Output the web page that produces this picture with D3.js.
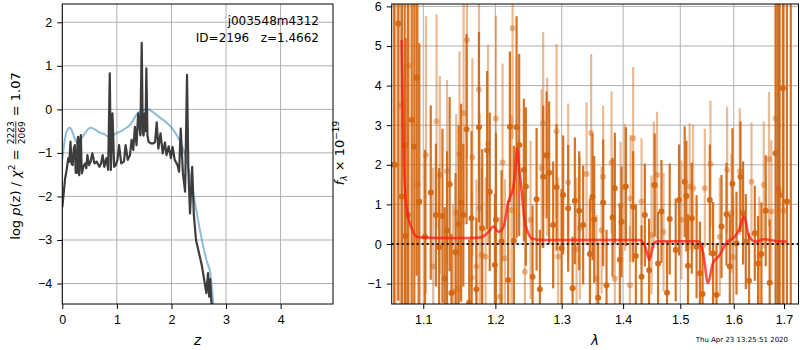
<!DOCTYPE html>
<meta charset="utf-8">
<style>
body { margin: 0; background: #fff; }
svg { font-family: "DejaVu Sans", sans-serif; }
.tick text { font-size: 12.5px; fill: #000; }
.tick line { stroke: #000; }
</style>
<svg width="800" height="350"></svg>
<script src="https://d3js.org/d3.v7.min.js"></script>
<script>
var svg = d3.select("svg");

// redshift probability, log p(z)
var pzZ = [0.00, 0.02, 0.05, 0.08, 0.11, 0.13, 0.15, 0.17, 0.19, 0.21, 0.23, 0.245, 0.26, 0.28, 0.29, 0.30, 0.31, 0.325, 0.34, 0.355,
    0.36, 0.39, 0.42, 0.44, 0.46, 0.49, 0.52, 0.55, 0.59, 0.63, 0.68, 0.71, 0.74, 0.77, 0.81, 0.84, 0.87, 0.89, 0.92, 0.95,
    0.98, 1.01, 1.04, 1.08, 1.13, 1.16, 1.20, 1.24, 1.27, 1.30, 1.33, 1.36, 1.39, 1.43, 1.455, 1.475, 1.49, 1.51, 1.525, 1.54,
    1.56, 1.58, 1.62, 1.67, 1.70, 1.73, 1.76, 1.80, 1.84, 1.88, 1.91, 1.95, 1.99, 2.02, 2.06, 2.11, 2.14, 2.17, 2.21, 2.25,
    2.285, 2.31, 2.34, 2.38, 2.41, 2.45, 2.52, 2.56, 2.61, 2.64, 2.67, 2.69, 2.71, 2.73, 2.76];
var pzLog = [-2.25, -2.0, -1.6, -1.39, -1.12, -1.2, -0.74, -1.25, -1.28, -0.9, -0.82, -1.45, -1.46, -0.7, -0.63, -1.45, -1.51, -0.75, -0.59, -1.4,
    -1.47, -1.3, -1.24, -1.35, -1.05, -1.28, -1.2, -1.01, -1.24, -1.2, -1.32, -1.25, -1.05, -1.32, -1.12, -1.39, 0.83, -1.39, -0.09, -1.32,
    -1.28, -1.16, -0.82, -1.24, -1.2, -0.82, -1.16, -1.05, -0.7, -0.93, -0.4, -0.82, -0.09, -0.6, 1.53, -0.55, -0.6, -0.09, -0.5, 0.94,
    -0.6, -0.74, -0.78, -0.78, -0.75, -0.3, -0.9, -0.55, -1.01, -0.76, -1.05, -0.85, -1.12, -0.86, -1.16, -1.28, -1.43, -0.44, -1.47, -1.89,
    0.79, -1.39, -2.39, -1.32, -2.42, -3.0, -3.38, -3.61, -3.99, -4.22, -3.76, -4.3, -3.9, -4.4, -4.7];

// chi2 curve in the same units
var chiZ = [0, 0.04, 0.08, 0.14, 0.18, 0.22, 0.27, 0.33, 0.40, 0.46, 0.52, 0.58, 0.64, 0.70, 0.77, 0.84, 0.92, 1.00, 1.08, 1.15,
    1.22, 1.30, 1.36, 1.42, 1.48, 1.56, 1.65, 1.72, 1.80, 1.88, 1.95, 2.02, 2.10, 2.18, 2.24, 2.30, 2.36, 2.41, 2.46, 2.51,
    2.55, 2.60, 2.65, 2.71, 2.74, 2.78];
var chiLog = [-1.15, -0.75, -0.5, -0.42, -0.5, -0.65, -0.77, -0.7, -0.58, -0.47, -0.42, -0.45, -0.5, -0.54, -0.57, -0.62, -0.6, -0.54, -0.5, -0.44,
    -0.38, -0.25, -0.12, -0.05, -0.02, 0.0, -0.05, -0.12, -0.2, -0.27, -0.35, -0.45, -0.6, -0.8, -1.0, -1.3, -1.65, -2.0, -2.35, -2.7,
    -2.95, -3.25, -3.5, -3.75, -4.1, -4.6];

var zTicks = [0, 1, 2, 3, 4];
var pTicks = [-4, -3, -2, -1, 0, 1, 2];

// spectrum, [wavelength, flux, error]  (dark series)
var specDark = [[1.062, 2.0, 8], [1.0673, 5.57, 7], [1.072, 1.2, 7], [1.0756, 2.5, 6], [1.0768, 0.2, 5], [1.0797, 0.73, 6], [1.0848, 3.13, 6],
    [1.0882, 2.46, 6], [1.0913, 4.2, 5], [1.0948, 1.07, 4], [1.1023, 0.18, 2.2], [1.110, 1.3, 2.2], [1.1169, 0.73, 1.8], [1.1213, -0.08, 2.0],
    [1.1258, 0.71, 2.2], [1.1289, -0.87, 1.8], [1.132, 0.34, 2.0], [1.1356, 1.51, 2.2], [1.138, -1.24, 1.5], [1.1437, -0.21, 2.0], [1.148, 0.5, 2.5],
    [1.1514, 1.04, 2.5], [1.1545, 0.73, 1.8], [1.159, 2.9, 2.4], [1.1627, -1.48, 1.6], [1.1659, 0.65, 2.2], [1.1728, -1.14, 1.8], [1.1765, 2.95, 2.4],
    [1.1811, 0.4, 2.0], [1.1881, 2.37, 2.0], [1.1919, 1.32, 2.0], [1.1993, -0.53, 1.8], [1.2008, 0.61, 2.2], [1.209, 0.06, 1.8], [1.2187, -0.91, 2.0],
    [1.2212, 2.96, 1.9], [1.2271, 0.08, 2.4], [1.2311, 2.95, 2.8], [1.235, 2.5, 2.3], [1.242, 1.87, 1.8], [1.245, 1.45, 2.0], [1.2551, -0.83, 1.8],
    [1.2612, 1.13, 1.8], [1.2662, -1.14, 1.5], [1.2713, 1.7, 1.8], [1.2765, 2.25, 1.6], [1.2805, 1.8, 1.8], [1.2867, 0.48, 1.6], [1.292, 1.43, 1.6],
    [1.2998, -0.11, 1.5], [1.3023, 1.24, 1.5], [1.3102, 0.9, 1.6], [1.3172, -1.12, 1.3], [1.3208, 1.09, 1.6], [1.3277, 0.84, 1.5], [1.3341, 0.48, 1.5],
    [1.345, -0.25, 1.4], [1.3493, 1.19, 1.6], [1.352, 0.62, 1.6], [1.3585, -1.36, 1.4], [1.3667, 1.04, 1.6], [1.3723, -1.04, 1.4], [1.3823, 0.67, 1.5],
    [1.3861, 1.41, 1.4], [1.3945, -0.4, 1.4], [1.3974, 0.56, 1.4], [1.4047, 1.45, 1.5], [1.4171, 0.94, 1.4], [1.4217, -0.3, 1.3], [1.4315, -0.83, 1.3],
    [1.4372, 0.73, 1.3], [1.4446, -0.66, 1.3], [1.4545, 1.49, 1.3], [1.4603, -0.49, 1.3], [1.4663, 0.82, 1.3], [1.4762, -1.23, 1.3], [1.481, 0.63, 1.4],
    [1.4917, -0.15, 1.3], [1.4977, 1.11, 1.4], [1.508, 1.57, 1.4], [1.5111, 1.21, 1.4], [1.514, -0.55, 1.3], [1.521, 0.65, 1.4], [1.5298, -0.07, 1.3],
    [1.5359, -0.74, 1.3], [1.5409, -1.26, 1.3], [1.5544, 1.11, 1.4], [1.5606, -0.24, 1.3], [1.567, -1.29, 1.3], [1.5765, 0.44, 1.3], [1.586, 0.75, 1.3],
    [1.5924, -0.57, 1.3], [1.5975, 1.52, 1.4], [1.6053, 0.02, 1.3], [1.613, 1.7, 1.4], [1.6181, 0.78, 1.3], [1.6234, 0.06, 1.2], [1.6298, -0.93, 1.2],
    [1.6411, 0.27, 1.2], [1.6476, -0.49, 1.2], [1.6543, -0.25, 1.3], [1.6629, 0.84, 1.4], [1.6709, -0.98, 1.6], [1.683, 2.29, 4.0], [1.6876, 1.41, 6],
    [1.6911, 1.24, 7], [1.6978, 3.93, 8], [1.706, 1.07, 9], [1.714, 6.5, 9]];

// second spectrum (light series)
var specLight = [[1.064, 2.0, 8], [1.070, 3.5, 7], [1.081, 4.5, 6], [1.093, 1.5, 5], [1.1036, 2.25, 3.5], [1.1133, -0.57, 2.5], [1.1178, 3.1, 2.7],
    [1.1222, 1.74, 2.5], [1.132, 1.84, 2.3], [1.1401, -1.2, 2.2], [1.1446, 0.78, 2.5], [1.1468, -1.14, 2.0], [1.1491, 2.27, 2.6], [1.1549, 3.3, 2.8],
    [1.1596, 5.15, 3.0], [1.1664, -0.85, 2.2], [1.1672, 2.19, 2.5], [1.1728, -0.57, 2.2], [1.1765, 3.9, 2.6], [1.1775, 0.9, 2.4], [1.1803, -0.28, 2.2],
    [1.1859, -0.32, 2.0], [1.1895, 2.53, 2.5], [1.2008, 3.17, 2.6], [1.2066, -1.33, 2.0], [1.2105, 2.06, 2.5], [1.2139, -0.36, 2.0], [1.2237, 0.86, 2.4],
    [1.2252, 5.45, 2.8], [1.2435, -0.7, 2.0], [1.2521, 0.61, 2.0], [1.2688, 1.91, 2.0], [1.2713, 3.05, 2.3], [1.2774, 2.2, 2.0], [1.292, 2.85, 2.2],
    [1.2945, -0.32, 2.0], [1.3102, 1.55, 2.0], [1.3235, -0.13, 1.8], [1.3288, 0.4, 1.8], [1.3396, 1.77, 1.8], [1.347, 2.8, 2.0], [1.3558, -0.87, 1.6],
    [1.3641, 0.35, 1.6], [1.3667, 1.7, 1.8], [1.3806, 2.06, 1.8], [1.3861, -0.88, 1.6], [1.3957, 0.98, 1.6], [1.403, 1.43, 1.6], [1.4115, -1.04, 1.5],
    [1.4127, 1.15, 1.6], [1.4171, 2.67, 1.8], [1.4315, 1.07, 1.6], [1.4488, 0.23, 1.5], [1.4528, 1.49, 1.6], [1.4586, 1.74, 1.6], [1.47, 0.3, 1.5],
    [1.502, 0.61, 1.5], [1.5171, 1.45, 1.6], [1.5235, 1.41, 1.6], [1.5451, 1.41, 1.5], [1.5557, 2.02, 1.6], [1.5733, 0.18, 1.5], [1.5872, 1.87, 1.6],
    [1.5956, 0.78, 1.5], [1.5987, -0.33, 1.5], [1.6117, 1.83, 1.6], [1.6346, 1.57, 1.5], [1.65, -0.3, 1.5], [1.6589, 1.49, 1.6], [1.6695, 2.14, 1.7],
    [1.6743, 0.82, 1.8], [1.683, 3.17, 5], [1.6897, 1.35, 6], [1.6992, 0.84, 7]];

// best fit model
var modelWave = [1.0717, 1.0735, 1.0758, 1.079, 1.0847, 1.09, 1.10, 1.13, 1.16, 1.178, 1.19, 1.197, 1.2047, 1.212, 1.219, 1.226, 1.229, 1.232,
    1.235, 1.238, 1.243, 1.248, 1.254, 1.27, 1.30, 1.35, 1.40, 1.428, 1.438, 1.445, 1.453, 1.46, 1.50, 1.533, 1.542, 1.551, 1.56, 1.573,
    1.585, 1.601, 1.61, 1.62, 1.63, 1.643, 1.66, 1.68, 1.705];
var modelFlux = [5.15, 3.0, 1.45, 0.8, 0.4, 0.2, 0.16, 0.15, 0.15, 0.16, 0.3, 0.44, 0.31, 0.44, 1.07, 1.41, 1.8, 2.42,
    1.9, 1.45, 0.61, 0.3, 0.14, 0.1, 0.1, 0.1, 0.1, 0.1, -0.07, -0.4, 0.02, 0.07, 0.07, 0.07, -0.23, -0.99, -0.49, -0.28,
    0.02, 0.17, 0.35, 0.69, 0.18, 0.06, 0.12, 0.08, 0.06];

var waveTicks = [1.1, 1.2, 1.3, 1.4, 1.5, 1.6, 1.7];
var fluxTicks = [-1, 0, 1, 2, 3, 4, 5, 6];

var orange = "#d2660f";

//panel boxes
var L = {x0: 62.3, x1: 333, y0: 4, y1: 304};
var R = {x0: 391.7, x1: 798.5, y0: 4, y1: 304};

var zx = d3.scaleLinear().domain([0, 4.96]).range([L.x0, L.x1]);
var zy = d3.scaleLinear().domain([-4.47, 2.42]).range([L.y1, L.y0]);
var wx = d3.scaleLog().domain([1.0589, 1.730]).range([R.x0, R.x1]);
var fy = d3.scaleLinear().domain([-1.515, 6.06]).range([R.y1, R.y0]);

// clip paths
var defs = svg.append("defs");
[["clipL", L], ["clipR", R]].forEach(function(c) {
    defs.append("clipPath").attr("id", c[0]).append("rect")
        .attr("x", c[1].x0).attr("y", c[1].y0)
        .attr("width", c[1].x1 - c[1].x0).attr("height", c[1].y1 - c[1].y0);
});

function grid(box, x, y, xt, yt) {
    var g = svg.append("g").attr("class", "grid");
    g.selectAll(".gx").data(xt).enter().append("line")
        .attr("x1", x).attr("x2", x)
        .attr("y1", box.y0).attr("y2", box.y1)
        .attr("stroke", "#b0b0b0").attr("stroke-width", 1);
    g.selectAll(".gy").data(yt).enter().append("line")
        .attr("x1", box.x0).attr("x2", box.x1)
        .attr("y1", y).attr("y2", y)
        .attr("stroke", "#b0b0b0").attr("stroke-width", 1);
}

grid(L, function(d) { return zx(d); }, function(d) { return zy(d); }, zTicks, pTicks);
grid(R, function(d) { return wx(d); }, function(d) { return fy(d); }, waveTicks, fluxTicks);

/*
 * LEFT PANEL: p(z)
 */
var gl = svg.append("g").attr("clip-path", "url(#clipL)");

gl.append("path")
    .datum(d3.range(chiZ.length))
    .attr("d", d3.line()
        .x(function(i) { return zx(chiZ[i]); })
        .y(function(i) { return zy(chiLog[i]); })
        .curve(d3.curveMonotoneX))
    .attr("fill", "none")
    .attr("stroke", "#1f77b4")
    .attr("stroke-opacity", 0.5)
    .attr("stroke-width", 2);

gl.append("path")
    .datum(d3.range(pzZ.length))
    .attr("d", d3.line()
        .x(function(i) { return zx(pzZ[i]); })
        .y(function(i) { return zy(pzLog[i]); }))
    .attr("fill", "none")
    .attr("stroke", "#333")
    .attr("stroke-opacity", 0.95)
    .attr("stroke-width", 2.2)
    .attr("stroke-linejoin", "round");

/*
 * RIGHT PANEL: spectrum
 */
var gr = svg.append("g").attr("clip-path", "url(#clipR)");

function spectrum(data, op) {
    var g = gr.append("g");
    g.selectAll("line").data(data).enter().append("line")
        .attr("x1", function(d) { return wx(d[0]); })
        .attr("x2", function(d) { return wx(d[0]); })
        .attr("y1", function(d) { return fy(d[1] - d[2]); })
        .attr("y2", function(d) { return fy(d[1] + d[2]); })
        .attr("stroke", orange)
        .attr("stroke-opacity", op)
        .attr("stroke-width", 2.2);
    g.selectAll("circle").data(data).enter().append("circle")
        .attr("cx", function(d) { return wx(d[0]); })
        .attr("cy", function(d) { return fy(d[1]); })
        .attr("r", 3)
        .attr("fill", orange)
        .attr("fill-opacity", op);
}

spectrum(specLight, 0.45);
spectrum(specDark, 0.92);

gr.append("path")
    .datum(d3.range(modelWave.length))
    .attr("d", d3.line()
        .x(function(i) { return wx(modelWave[i]); })
        .y(function(i) { return fy(modelFlux[i]); })
        .curve(d3.curveMonotoneX))
    .attr("fill", "none")
    .attr("stroke", "#ff1a10")
    .attr("stroke-opacity", 0.75)
    .attr("stroke-width", 2.6);

gr.append("line")
    .attr("x1", R.x0).attr("x2", R.x1)
    .attr("y1", fy(0)).attr("y2", fy(0))
    .attr("stroke", "#111")
    .attr("stroke-width", 2)
    .attr("stroke-dasharray", "2,3");

/*
 * AXES
 */
function axes(box, x, y, xt, yt, xf) {
    svg.append("g")
        .attr("transform", "translate(0," + box.y1 + ")")
        .call(d3.axisBottom(x).tickValues(xt).tickFormat(xf).tickSize(5).tickPadding(6))
        .call(function(g) { g.select(".domain").remove(); });
    svg.append("g")
        .attr("transform", "translate(" + box.x0 + ",0)")
        .call(d3.axisLeft(y).tickValues(yt).tickFormat(d3.format("d")).tickSize(5).tickPadding(5))
        .call(function(g) { g.select(".domain").remove(); });
    svg.append("rect")
        .attr("x", box.x0).attr("y", box.y0)
        .attr("width", box.x1 - box.x0).attr("height", box.y1 - box.y0)
        .attr("fill", "none").attr("stroke", "#000").attr("stroke-width", 1);
}

axes(L, zx, zy, zTicks, pTicks, d3.format("d"));
axes(R, wx, fy, waveTicks, fluxTicks, d3.format(".1f"));

// labels
svg.append("text").attr("x", 319).attr("y", 25)
    .attr("text-anchor", "end").attr("font-size", 12)
    .text("j003548m4312");
svg.append("text").attr("x", 319).attr("y", 41.5)
    .attr("text-anchor", "end").attr("font-size", 12)
    .style("white-space", "pre")
    .text("ID=2196   z=1.4662");

svg.append("text").attr("x", (L.x0 + L.x1) / 2).attr("y", 345)
    .attr("text-anchor", "middle").attr("font-size", 13.5)
    .attr("font-style", "italic").text("z");
svg.append("text").attr("x", (R.x0 + R.x1) / 2).attr("y", 345)
    .attr("text-anchor", "middle").attr("font-size", 13.5)
    .attr("font-style", "italic").text("λ");

svg.append("text").attr("x", 788).attr("y", 342)
    .attr("text-anchor", "end").attr("font-size", 7)
    .text("Thu Apr 23 13:25:51 2020");

// left y label with fraction
var yl = svg.append("g");
var t1 = yl.append("text").attr("font-size", 13).style("white-space", "pre");
t1.append("tspan").text("log ");
t1.append("tspan").attr("font-style", "italic").text("p");
t1.append("tspan").text("(z) / ");
t1.append("tspan").attr("font-style", "italic").text("χ");
t1.append("tspan").attr("font-size", 9).attr("dy", -5).text("2");
t1.append("tspan").attr("dy", 5).text(" = ");
var w1 = t1.node().getComputedTextLength();
var num = yl.append("text").attr("font-size", 9).attr("x", w1 + 1).attr("y", -6).text("2223");
var fw = num.node().getComputedTextLength();
yl.append("text").attr("font-size", 9).attr("x", w1 + 1).attr("y", 4.5).text("2069");
yl.append("line").attr("x1", w1 + 1).attr("x2", w1 + 1 + fw)
    .attr("y1", -4.2).attr("y2", -4.2).attr("stroke", "#000").attr("stroke-width", 0.8);
var t2 = yl.append("text").attr("font-size", 13).attr("x", w1 + fw + 2)
    .style("white-space", "pre").text(" = 1.07");
var W = w1 + fw + 2 + t2.node().getComputedTextLength();
yl.attr("transform", "translate(20," + (156 + W / 2) + ") rotate(-90)");

// right y label
var yr = svg.append("text").attr("font-size", 13)
    .attr("text-anchor", "middle")
    .attr("transform", "translate(344,153) rotate(-90)");
yr.append("tspan").attr("font-style", "italic").text("f");
yr.append("tspan").attr("font-style", "italic").attr("font-size", 9).attr("dy", 3).text("λ");
yr.append("tspan").attr("dy", -3).text(" × 10");
yr.append("tspan").attr("font-size", 9).attr("dy", -5).text("−19");
</script>
